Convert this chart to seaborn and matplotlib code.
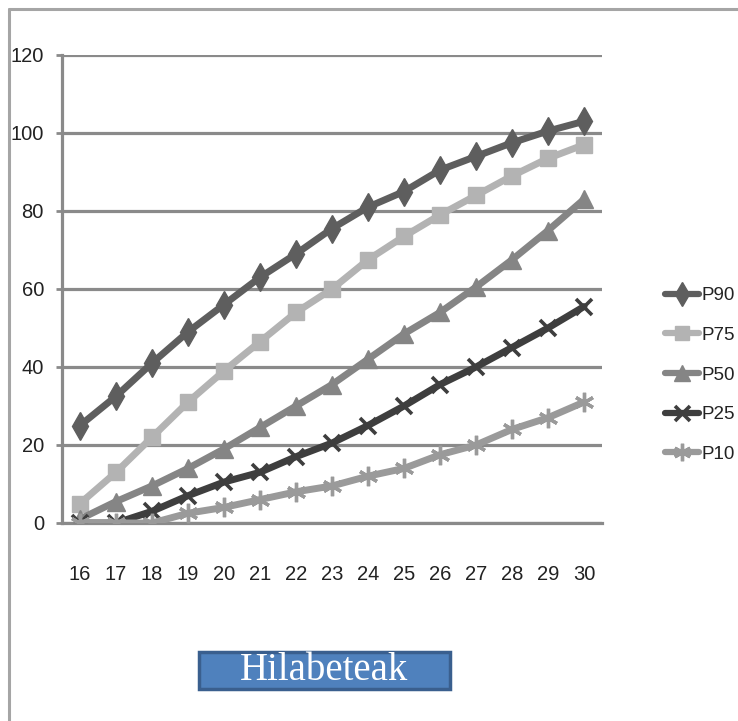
import matplotlib
matplotlib.use("Agg")
import matplotlib.pyplot as plt
from matplotlib.patches import Rectangle
from matplotlib.lines import Line2D
import seaborn as sns

ages = [16, 17, 18, 19, 20, 21, 22, 23, 24, 25, 26, 27, 28, 29, 30]
p90 = [25, 32.5, 41, 49, 56, 63, 69, 75.5, 81, 85, 90.5, 94, 97.5, 100.5, 103]
p75 = [5, 13, 22, 31, 39, 46.5, 54, 60, 67.5, 73.5, 79, 84, 89, 93.5, 97]
p50 = [1, 5.5, 9.5, 14, 19, 24.5, 30, 35.5, 42, 48.5, 54, 60.5, 67.5, 75, 83]
p25 = [0, 0, 3, 7, 10.5, 13, 17, 20.5, 25, 30, 35.5, 40, 45, 50, 55.5]
p10 = [0, 0, 0, 2.5, 4, 6, 8, 9.5, 12, 14, 17.5, 20, 24, 27, 31]
series_names = ["P90", "P75", "P50", "P25", "P10"]
y_ticks = [0, 20, 40, 60, 80, 100, 120]
box_label = "Hilabeteak"

sns.set_theme(style="white")
plt.rcParams["font.family"] = ["Liberation Sans", "DejaVu Sans"]

series = [p90, p75, p50, p25, p10]
styles = {
    "P90": dict(color="#5e5e5e", marker="d", ms=14, mew=1),
    "P75": dict(color="#b3b3b3", marker="s", ms=11.5, mew=1),
    "P50": dict(color="#858585", marker="^", ms=13, mew=1),
    "P25": dict(color="#3e3e3e", marker="x", ms=12, mew=2.6),
    "P10": dict(color="#9a9a9a", marker=(6, 2, 0), ms=14, mew=2.4),
}

W, H = 738, 721
fig = plt.figure(figsize=(W / 100, H / 100), dpi=100)
ax = fig.add_axes([62 / W, 1 - 523 / H, (602 - 62) / W, (523 - 55) / H])

grid_c = "#8a8a8a"
for yv in y_ticks:
    ax.axhline(yv, color=grid_c, lw=2.3, zorder=0.5)

handles = []
for name, vals in zip(series_names, series):
    st = styles[name]
    sns.lineplot(x=ages, y=vals, ax=ax, color=st["color"], linewidth=5,
                 marker=st["marker"], markersize=st["ms"], markeredgewidth=st["mew"],
                 markeredgecolor=st["color"], markerfacecolor=st["color"],
                 legend=False, zorder=3)
    handles.append(Line2D([], [], color=st["color"], lw=4.5, marker=st["marker"],
                          ms=st["ms"] * 0.9, mew=st["mew"], mec=st["color"], mfc=st["color"]))

ax.set_xlim(15.5, 30.5)
ax.set_ylim(0, 120)
ax.set_yticks(y_ticks)
ax.set_yticklabels([str(v) for v in y_ticks], fontsize=14.5)
ax.set_xticks([a - 0.5 for a in ages] + [ages[-1] + 0.5])
ax.set_xticklabels([])
ax.set_xticks(ages, minor=True)
ax.set_xticklabels([str(a) for a in ages], minor=True, fontsize=14.5)
ax.tick_params(axis="x", which="major", length=6, width=2, color=grid_c, direction="out")
ax.tick_params(axis="x", which="minor", length=0, pad=30)
ax.tick_params(axis="y", length=4, width=2, color=grid_c, pad=9, left=True)
for s in ["top", "right"]:
    ax.spines[s].set_visible(False)
ax.spines["left"].set_color(grid_c)
ax.spines["left"].set_linewidth(2.3)
ax.spines["bottom"].set_color(grid_c)
ax.spines["bottom"].set_linewidth(2.3)
ax.set_xlabel("")
ax.set_ylabel("")
for lab in ax.get_xticklabels(minor=True) + ax.get_yticklabels():
    lab.set_color("#222222")

leg = fig.legend(handles, series_names, loc="center left",
                 bbox_to_anchor=(657 / W, 1 - 375 / H), frameon=False,
                 fontsize=13.5, handlelength=1.85, handletextpad=0.1,
                 labelspacing=1.2, borderaxespad=0)
for t in leg.get_texts():
    t.set_color("#222222")

# outer frame lines
fig.add_artist(Line2D([9 / W, 1], [1 - 9 / H, 1 - 9 / H], color="#a5a5a5", lw=2.2,
                      transform=fig.transFigure))
fig.add_artist(Line2D([9 / W, 9 / W], [0, 1 - 9 / H], color="#a5a5a5", lw=2.2,
                      transform=fig.transFigure))

# blue label box
fig.add_artist(Rectangle((199 / W, 1 - 689 / H), (450 - 199) / W, (689 - 652) / H,
                         transform=fig.transFigure, facecolor="#4f81bd",
                         edgecolor="#3a5f8e", lw=2.5))
fig.text(324 / W, 1 - 670 / H, box_label, ha="center", va="center",
         color="white", fontsize=28, family=["Liberation Serif", "DejaVu Serif"])

fig.savefig("out.png", dpi=100)
